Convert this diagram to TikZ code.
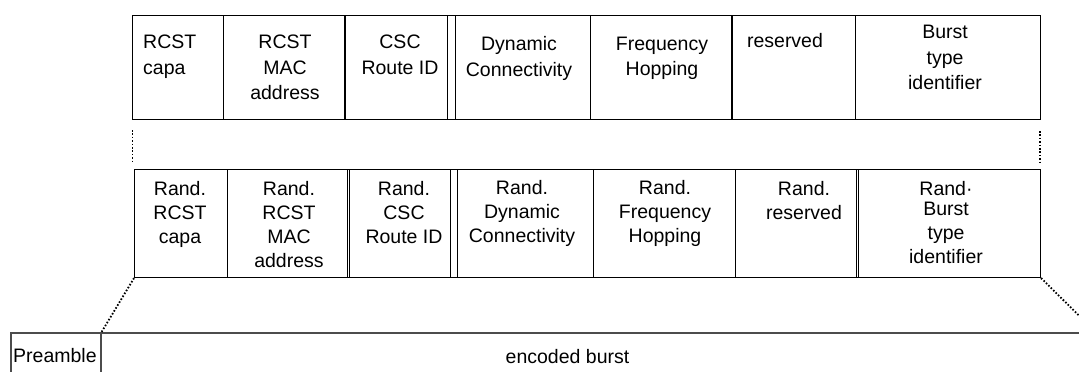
\documentclass[tikz,border=0pt]{standalone}
\usepackage{fontspec}
\setmainfont{Liberation Sans}
\begin{document}
\begin{tikzpicture}[x=1pt,y=-1pt,
  cell/.style={draw=black, line width=1.1pt, inner sep=0pt, anchor=north west},
  enc/.style={draw=black!70, line width=1.6pt, inner sep=0pt, anchor=north west},
  lbl/.style={inner sep=0pt, align=center, anchor=north, text=black, font=\fontsize{19.5}{25.5}\selectfont},
  lblb/.style={lbl, font=\fontsize{19.5}{24}\selectfont},
  link/.style={line width=1.8pt, dash pattern=on 1.6pt off 1.8pt, black}]
\useasboundingbox (0,0) rectangle (1079,372);
\clip (0,0) rectangle (1079,372);
% top row
\node[cell, minimum width=91pt,  minimum height=104pt] (t1) at (132,15) {};
\node[cell, minimum width=122pt, minimum height=104pt] (t2) at (223,15) {};
\node[cell, minimum width=102pt, minimum height=104pt] (t3) at (345,15) {};
\node[cell, minimum width=8pt,   minimum height=104pt] (ts) at (447,15) {};
\node[cell, minimum width=135pt, minimum height=104pt] (t4) at (455,15) {};
\node[cell, minimum width=142pt, minimum height=104pt] (t5) at (590,15) {};
\node[cell, minimum width=123pt, minimum height=104pt] (t6) at (732,15) {};
\node[cell, minimum width=185pt, minimum height=104pt] (t7) at (855,15) {};
\draw[black, line width=2pt] (t3.north west) -- (t3.south west);
\draw[black, line width=1.6pt] (t6.north west) -- (t6.south west);
% bottom row
\node[cell, minimum width=93pt,  minimum height=108pt] (b1) at (134,169) {};
\node[cell, minimum width=120pt, minimum height=108pt] (b2) at (227,169) {};
\node[cell, minimum width=2pt,   minimum height=108pt] (bs1) at (347,169) {};
\node[cell, minimum width=101pt, minimum height=108pt] (b3) at (349,169) {};
\node[cell, minimum width=7pt,   minimum height=108pt] (bs2) at (450,169) {};
\node[cell, minimum width=136pt, minimum height=108pt] (b4) at (457,169) {};
\node[cell, minimum width=142pt, minimum height=108pt] (b5) at (593,169) {};
\node[cell, minimum width=121pt, minimum height=108pt] (b6) at (735,169) {};
\node[cell, minimum width=2pt,   minimum height=108pt] (bs3) at (856,169) {};
\node[cell, minimum width=182pt, minimum height=108pt] (b7) at (858,169) {};
% encoded burst
\node[enc, minimum width=90pt,  minimum height=60pt] (pre) at (10,332) {};
\node[enc, minimum width=994pt, minimum height=60pt] (burst) at (100,332) {};
% dotted links
\coordinate (lvA) at (132.5,130);
\coordinate (lvB) at (132.5,162);
\coordinate (rvA) at (1040,131);
\coordinate (rvB) at (1040,162);
\draw[link] (lvA) -- (lvB);
\draw[link] (rvA) -- (rvB);
\draw[link] (b1.south west) -- (pre.north east);
\draw[link] (b7.south east) -- (burst.north east);
% top labels
\node[lbl, anchor=north west, align=left] (l1) at (143,35) {RCST\\capa};
\node[lbl] (l2) at (285,35) {RCST\\MAC\\address};
\node[lbl] (l3) at (400,35) {CSC\\Route ID};
\node[lbl] (l4) at (519,36.5) {Dynamic\\Connectivity};
\node[lbl] (l5) at (662,36.5) {Frequency\\Hopping};
\node[lbl] (l6) at (785,33) {reserved};
\node[lbl] (l7) at (945,25) {Burst\\type\\identifier};
% bottom labels
\node[lblb] (m1) at (180,181) {Rand.\\RCST\\capa};
\node[lblb] (m2) at (289,181) {Rand.\\RCST\\MAC\\address};
\node[lblb] (m3) at (404,181) {Rand.\\CSC\\Route ID};
\node[lblb] (m4) at (522,180) {Rand.\\Dynamic\\Connectivity};
\node[lblb] (m5) at (665,180) {Rand.\\Frequency\\Hopping};
\node[lblb] (m6) at (804,181) {Rand.\\reserved};
\node[lblb] (m7) at (946,181) {Rand·\\[-4pt]Burst\\type\\identifier};
% encoded labels
\node[inner sep=0pt, anchor=base west, text=black, font=\fontsize{19.5}{24}\selectfont] (pl) at (13,362) {Preamble};
\node[inner sep=0pt, anchor=base, text=black, font=\fontsize{19.5}{24}\selectfont] (el) at (567.5,363) {encoded burst};
\end{tikzpicture}
\end{document}
